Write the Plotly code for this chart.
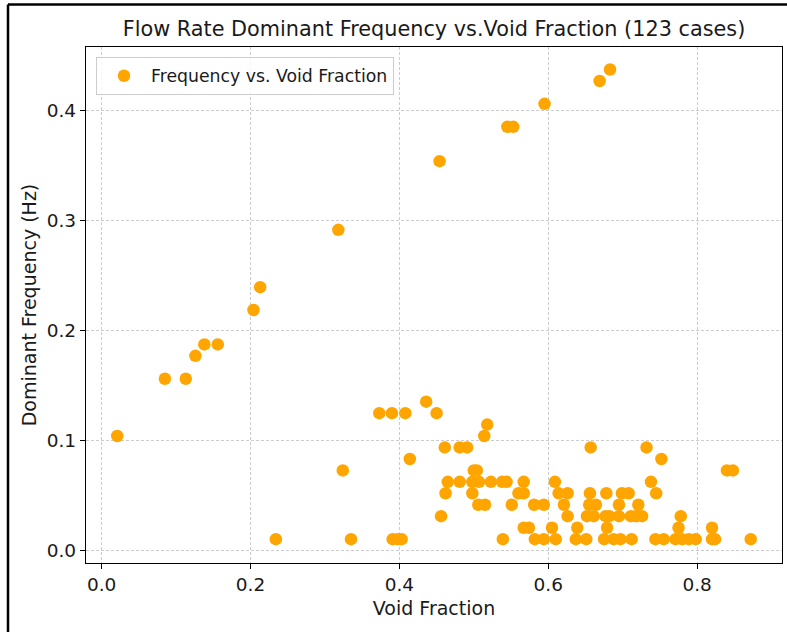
import plotly.graph_objects as go

# Void fraction (x) and dominant frequency in Hz (y)
void_fraction = [
    0.021, 0.085, 0.113, 0.126, 0.138, 0.156, 0.204, 0.213, 0.234, 0.318, 0.324, 0.335,
    0.373, 0.390, 0.408, 0.450, 0.436, 0.414, 0.391, 0.398, 0.403,
    0.454, 0.545, 0.553, 0.595, 0.669, 0.683,
    0.518, 0.514, 0.461, 0.481, 0.491, 0.500, 0.504,
    0.465, 0.481, 0.498, 0.507, 0.523, 0.538, 0.544, 0.567, 0.609,
    0.462, 0.498, 0.560, 0.567,
    0.506, 0.515, 0.551, 0.581, 0.594,
    0.456,
    0.567, 0.574, 0.605,
    0.539, 0.582, 0.594, 0.610,
    0.657, 0.732, 0.752,
    0.738,
    0.614, 0.626, 0.656, 0.678, 0.699, 0.708, 0.745,
    0.621, 0.655, 0.664, 0.695, 0.721,
    0.626, 0.652, 0.661, 0.677, 0.682, 0.695, 0.711, 0.718, 0.726,
    0.639, 0.679,
    0.637, 0.651, 0.675, 0.688, 0.697, 0.712, 0.744,
    0.840, 0.848,
    0.778,
    0.775, 0.820,
    0.755, 0.771, 0.780, 0.789, 0.798, 0.820, 0.824, 0.872,
]
dominant_freq = [
    0.1042, 0.1563, 0.1563, 0.1771, 0.1875, 0.1875, 0.2188, 0.2396, 0.0104, 0.2917, 0.0729, 0.0104,
    0.1250, 0.1250, 0.1250, 0.1250, 0.1354, 0.0833, 0.0104, 0.0104, 0.0104,
    0.3542, 0.3854, 0.3854, 0.4063, 0.4271, 0.4375,
    0.1146, 0.1042, 0.0938, 0.0938, 0.0938, 0.0729, 0.0729,
    0.0625, 0.0625, 0.0625, 0.0625, 0.0625, 0.0625, 0.0625, 0.0625, 0.0625,
    0.0521, 0.0521, 0.0521, 0.0521,
    0.0417, 0.0417, 0.0417, 0.0417, 0.0417,
    0.0313,
    0.0208, 0.0208, 0.0208,
    0.0104, 0.0104, 0.0104, 0.0104,
    0.0938, 0.0938, 0.0833,
    0.0625,
    0.0521, 0.0521, 0.0521, 0.0521, 0.0521, 0.0521, 0.0521,
    0.0417, 0.0417, 0.0417, 0.0417, 0.0417,
    0.0313, 0.0313, 0.0313, 0.0313, 0.0313, 0.0313, 0.0313, 0.0313, 0.0313,
    0.0208, 0.0208,
    0.0104, 0.0104, 0.0104, 0.0104, 0.0104, 0.0104, 0.0104,
    0.0729, 0.0729,
    0.0313,
    0.0208, 0.0208,
    0.0104, 0.0104, 0.0104, 0.0104, 0.0104, 0.0104, 0.0104, 0.0104,
]

x_ticks = [0.0, 0.2, 0.4, 0.6, 0.8]
y_ticks = [0.0, 0.1, 0.2, 0.3, 0.4]

FONT = "DejaVu Sans"
TXT = "#1a1a1a"

fig = go.Figure()
fig.add_trace(go.Scatter(
    x=void_fraction, y=dominant_freq, mode="markers",
    name="Frequency vs. Void Fraction",
    marker=dict(color="#FFA500", size=12.5, line=dict(width=0)),
))

# Plot area: left 86, right 782, top 47, bottom 563 (px)
L, R, T, B = 86, 782, 47, 563
W, H = 787, 632
pw, ph = R - L, B - T

axis_common = dict(
    showline=True, linecolor="black", linewidth=1.3, mirror=True,
    ticks="outside", ticklen=5, tickwidth=1.2, tickcolor="black",
    showgrid=True, gridcolor="#cccccc", gridwidth=1, griddash="3px,2px",
    zeroline=False,
    tickfont=dict(family=FONT, size=18.5, color=TXT),
)

fig.update_layout(
    width=W, height=H,
    margin=dict(l=L, r=W - R, t=T, b=H - B),
    paper_bgcolor="white", plot_bgcolor="white",
    font=dict(family=FONT, color=TXT),
    title=dict(
        text="Flow Rate Dominant Frequency vs.Void Fraction (123 cases)",
        font=dict(family=FONT, size=20.8, color=TXT),
        x=0.5, xref="paper", xanchor="center",
        y=1 - 29 / H, yref="container", yanchor="middle",
    ),
    xaxis=dict(
        axis_common, range=[-0.021, 0.914], tickvals=x_ticks,
        ticktext=[f"{v:.1f}" for v in x_ticks],
        title=dict(text="Void Fraction", font=dict(family=FONT, size=19, color=TXT), standoff=7),
    ),
    yaxis=dict(
        axis_common, range=[-0.0113, 0.458], tickvals=y_ticks,
        ticktext=[f"{v:.1f}" for v in y_ticks],
        title=dict(text="Dominant Frequency (Hz)", font=dict(family=FONT, size=19, color=TXT), standoff=5),
    ),
    showlegend=True,
    legend=dict(
        x=(96 - L) / pw, y=(B - 57) / ph, xanchor="left", yanchor="top",
        bgcolor="rgba(255,255,255,0.8)", bordercolor="#cccccc", borderwidth=1,
        font=dict(family=FONT, size=17.3, color=TXT),
        itemwidth=44,
    ),
    shapes=[
        dict(type="line", xref="paper", yref="paper",
             x0=(8 - L) / pw, x1=(8 - L) / pw, y0=(B - 4.5) / ph, y1=(B - 640) / ph,
             line=dict(color="black", width=2.5)),
        dict(type="line", xref="paper", yref="paper",
             x0=(8 - L) / pw, x1=(800 - L) / pw, y0=(B - 4.5) / ph, y1=(B - 4.5) / ph,
             line=dict(color="black", width=2.5)),
    ],
)

fig.write_html("out.html")
